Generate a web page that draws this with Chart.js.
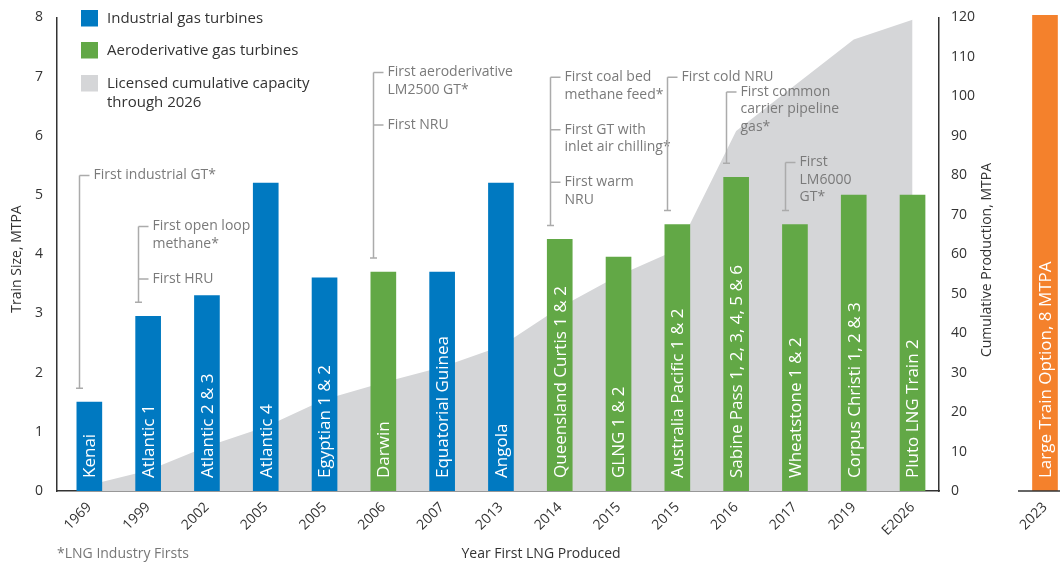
<!DOCTYPE html>
<html>
<head>
<meta charset="utf-8">
<script src="https://cdn.jsdelivr.net/npm/chart.js@4.4.0/dist/chart.umd.min.js"></script>
<style>
  html, body { margin: 0; padding: 0; background: #fff; overflow: hidden; }
  #wrap { position: relative; width: 1060px; height: 562px; overflow: hidden; }
  #main { position: absolute; left: 0; top: -5px; }
  #side { position: absolute; left: 1000px; top: 0; }
</style>
</head>
<body>
<div id="wrap">
  <canvas id="main" width="1010" height="567" style="width:1010px;height:567px"></canvas>
  <canvas id="side" width="80" height="562" style="width:80px;height:562px"></canvas>
</div>
<script>
// chart data
const years = ['1969', '1999', '2002', '2005', '2005', '2006', '2007', '2013', '2014', '2015', '2015', '2016', '2017', '2019', 'E2026']
const projects = ['Kenai', 'Atlantic 1', 'Atlantic 2 & 3', 'Atlantic 4', 'Egyptian 1 & 2', 'Darwin', 'Equatorial Guinea', 'Angola',
  'Queensland Curtis 1 & 2', 'GLNG 1 & 2', 'Australia Pacific 1 & 2', 'Sabine Pass 1, 2, 3, 4, 5 & 6', 'Wheatstone 1 & 2',
  'Corpus Christi 1, 2 & 3', 'Pluto LNG Train 2']
// I = industrial GT, A = aeroderivative GT
const turbine = ['I', 'I', 'I', 'I', 'I', 'A', 'I', 'I', 'A', 'A', 'A', 'A', 'A', 'A', 'A']
const trainSize = [1.5, 2.95, 3.3, 5.2, 3.6, 3.7, 3.7, 5.2, 4.25, 3.95, 4.5, 5.3, 4.5, 5.0, 5.0]
const cumulative = [1.5, 5.2, 11.3, 16.3, 23.2, 27.5, 31.4, 36.7, 46.5, 54.6, 61.2, 91.2, 102.8, 114.4, 119.4]

const leftMax = 8
const rightMax = 120

const sideYear = ['2023']
const sideProject = ['Large Train Option, 8 MTPA']
const sideSize = [8]

const legendItems = [
  { text: ['Industrial gas turbines'], color: '#0079c1' },
  { text: ['Aeroderivative gas turbines'], color: '#62a846' },
  { text: ['Licensed cumulative capacity', 'through 2026'], color: '#d5d6d8' }
]

// "firsts" callouts, top is in train size units
const notes = [
  { bar: 0, top: 5.33, groups: [['First industrial GT*']] },
  { bar: 1, top: 4.47, groups: [['First open loop', 'methane*'], ['First HRU']] },
  { bar: 5, top: 7.07, groups: [['First aeroderivative', 'LM2500 GT*'], ['First NRU']] },
  { bar: 8, top: 6.99, groups: [['First coal bed', 'methane feed*'], ['First GT with', 'inlet air chilling*'], ['First warm', 'NRU']] },
  { bar: 10, top: 6.99, groups: [['First cold NRU']] },
  { bar: 11, top: 6.74, groups: [['First common', 'carrier pipeline', 'gas*']] },
  { bar: 12, top: 5.55, groups: [['First', 'LM6000', 'GT*']] }
]

const BLUE = '#0079c1'
const GREEN = '#62a846'
const GREY = '#d5d6d8'
const ORANGE = '#f4812c'
const FONT = '"Open Sans", "Noto Sans", sans-serif'
const DARK = '#333333'
const SHIFT = 5 // main canvas sits 5px above the page top

function barText(chart, labels) {
  const ctx = chart.ctx
  const ys = chart.scales.y
  ctx.save()
  ctx.fillStyle = '#ffffff'
  ctx.font = '17px ' + FONT
  ctx.textAlign = 'left'
  ctx.textBaseline = 'middle'
  chart.getDatasetMeta(0).data.forEach((bar, i) => {
    ctx.save()
    ctx.translate(bar.x + 1, ys.getPixelForValue(0) - 13)
    ctx.rotate(-Math.PI / 2)
    ctx.fillText(labels[i], 0, 0)
    ctx.restore()
  })
  ctx.restore()
}

const extras = {
  id: 'extras',
  afterDatasetsDraw(chart) {
    const ctx = chart.ctx
    const xs = chart.scales.x
    const ys = chart.scales.y

    barText(chart, projects)

    // callouts
    ctx.save()
    ctx.font = '14px ' + FONT
    ctx.textBaseline = 'middle'
    ctx.textAlign = 'left'
    ctx.fillStyle = '#7a7a7a'
    ctx.strokeStyle = '#ababab'
    ctx.lineWidth = 1.5
    notes.forEach(n => {
      const bx = Math.round(xs.getPixelForValue(n.bar) - 10) + 0.5
      const top = ys.getPixelForValue(n.top)
      const bottom = ys.getPixelForValue(trainSize[n.bar]) - 14
      ctx.beginPath()
      ctx.moveTo(bx, top)
      ctx.lineTo(bx, bottom)
      ctx.moveTo(bx - 3.5, bottom)
      ctx.lineTo(bx + 3.5, bottom)
      let ly = top
      n.groups.forEach((g, gi) => {
        if (gi > 0) ly += 35
        ctx.moveTo(bx, ly)
        ctx.lineTo(bx + 10, ly)
        g.forEach((t, li) => {
          if (li > 0) ly += 17.5
          ctx.fillText(t, bx + 14, ly)
        })
      })
      ctx.stroke()
    })
    ctx.restore()

    // legend
    ctx.save()
    ctx.translate(0, SHIFT)
    ctx.font = '15px ' + FONT
    ctx.textBaseline = 'middle'
    const legendTop = [10, 42, 75]
    legendItems.forEach((item, i) => {
      ctx.fillStyle = item.color
      ctx.fillRect(81, legendTop[i], 17, 16.5)
      ctx.fillStyle = DARK
      item.text.forEach((t, li) => ctx.fillText(t, 107, legendTop[i] + 8.5 + li * 19))
    })
    ctx.restore()

    // axis titles and footnote
    ctx.save()
    ctx.translate(0, SHIFT)
    ctx.font = '14px ' + FONT
    ctx.fillStyle = DARK
    ctx.textAlign = 'center'
    ctx.textBaseline = 'middle'
    ctx.fillText('Year First LNG Produced', 541, 554)
    ctx.save()
    ctx.translate(17, 259)
    ctx.rotate(-Math.PI / 2)
    ctx.fillText('Train Size, MTPA', 0, 0)
    ctx.restore()
    ctx.save()
    ctx.translate(987, 260)
    ctx.rotate(-Math.PI / 2)
    ctx.fillText('Cumulative Production, MTPA', 0, 0)
    ctx.restore()
    ctx.textAlign = 'left'
    ctx.fillStyle = '#777777'
    ctx.fillText('*LNG Industry Firsts', 57, 554)
    ctx.restore()
  }
}

const tickFont = { family: FONT, size: 14 }

new Chart(document.getElementById('main'), {
  type: 'bar',
  data: {
    datasets: [
      {
        type: 'bar',
        label: 'Train size',
        data: trainSize.map((v, i) => ({ x: i, y: v })),
        backgroundColor: turbine.map(t => t === 'I' ? BLUE : GREEN),
        barThickness: 25,
        yAxisID: 'y',
        order: 1
      },
      {
        type: 'line',
        label: 'Licensed cumulative capacity',
        data: cumulative.map((v, i) => ({ x: i, y: v })),
        yAxisID: 'y1',
        fill: 'origin',
        backgroundColor: GREY,
        borderWidth: 0,
        pointRadius: 0,
        tension: 0,
        order: 2
      }
    ]
  },
  options: {
    responsive: false,
    animation: false,
    layout: { padding: { top: 10, left: 0, right: 0, bottom: 0 } },
    plugins: { legend: { display: false }, tooltip: { enabled: false } },
    scales: {
      x: {
        type: 'linear',
        offset: false,
        min: -0.55,
        max: 14.45,
        grid: { display: false, drawTicks: false },
        border: { color: DARK, width: 1.5 },
        afterBuildTicks: s => { s.ticks = years.map((_, i) => ({ value: i })) },
        ticks: {
          autoSkip: false,
          minRotation: 45,
          maxRotation: 45,
          padding: 8,
          color: DARK,
          font: tickFont,
          callback: v => years[Math.round(v)] ?? ''
        },
        afterFit: s => { s.height = 71 }
      },
      y: {
        position: 'left',
        min: 0,
        max: leftMax,
        grid: { display: false, drawTicks: false },
        border: { color: DARK, width: 1.5 },
        ticks: { stepSize: 1, padding: 14, color: DARK, font: tickFont },
        afterFit: s => { s.width = 57 }
      },
      y1: {
        position: 'right',
        min: 0,
        max: rightMax,
        grid: { display: false, drawTicks: false },
        border: { color: DARK, width: 1.5 },
        ticks: { stepSize: 10, padding: 12, color: DARK, font: tickFont },
        afterFit: s => { s.width = 71 }
      }
    }
  },
  plugins: [extras]
})

const sideText = {
  id: 'sideText',
  afterDatasetsDraw(chart) {
    const ctx = chart.ctx
    const base = chart.scales.y.getPixelForValue(0)
    ctx.save()
    ctx.strokeStyle = DARK
    ctx.lineWidth = 1.5
    ctx.beginPath()
    ctx.moveTo(chart.chartArea.left, base)
    ctx.lineTo(chart.width, base)
    ctx.stroke()
    ctx.restore()
    barText(chart, sideProject)
  }
}

new Chart(document.getElementById('side'), {
  type: 'bar',
  data: {
    labels: sideYear,
    datasets: [{
      label: 'Large train option',
      data: sideSize,
      backgroundColor: ORANGE,
      barThickness: 25
    }]
  },
  options: {
    responsive: false,
    animation: false,
    layout: { padding: { top: 15, left: 18, right: 8, bottom: 0 } },
    plugins: { legend: { display: false }, tooltip: { enabled: false } },
    scales: {
      x: {
        grid: { display: false, drawTicks: false },
        border: { display: false },
        ticks: { minRotation: 45, maxRotation: 45, padding: 8, color: DARK, font: tickFont },
        afterFit: s => { s.height = 71 }
      },
      y: { display: false, min: 0, max: leftMax }
    }
  },
  plugins: [sideText]
})
</script>
</body>
</html>
